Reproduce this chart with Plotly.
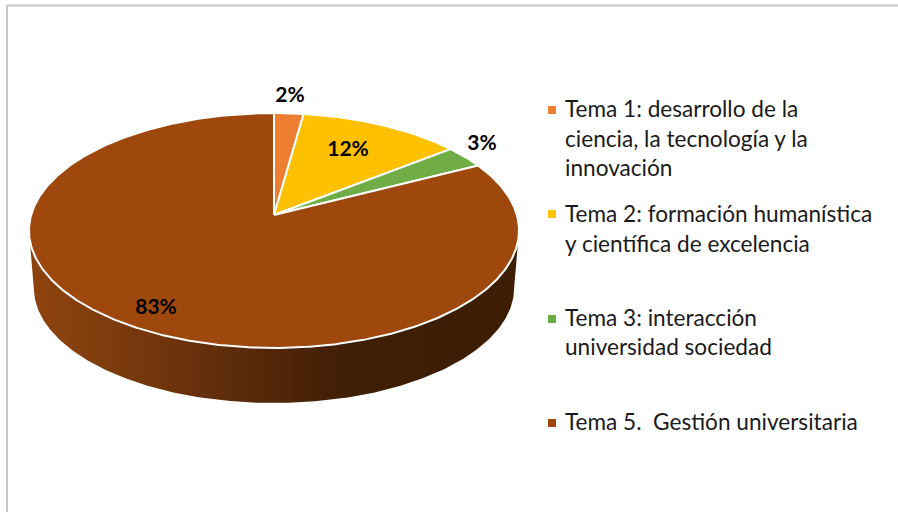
import numpy as np
import plotly.graph_objects as go

categories = ["Tema 1", "Tema 2", "Tema 3", "Tema 5"]
values = [2.2, 12.2, 3.1, 82.5]
value_labels = ["2%", "12%", "3%", "83%"]
colors = ["#ED7D31", "#FFC000", "#70AD47", "#9E480E"]
legend_lines = [
    ["Tema 1: desarrollo de la", "ciencia, la tecnología y la", "innovación"],
    ["Tema 2: formación humanística", "y científica de excelencia"],
    ["Tema 3: interacción", "universidad sociedad"],
    ["Tema 5.  Gestión universitaria"],
]
legend_line_y = [[111, 141, 170], [216, 246], [320, 349], [424]]
legend_marker_y = [110, 214, 319, 423]
label_pos = [(290, 97), (348, 151), (482, 145), (156, 309)]

W, H = 898, 512
CX, APEX_Y = 274, 215
K = 0.132
A = 115.4
B = 242.9
DEPTH_SCALE = 0.98
DEPTH_APEX_Y = 272.7


def project(theta_deg, apex_y=APEX_Y, scale=1.0):
    t = np.radians(theta_deg)
    x, y = np.sin(t), np.cos(t)
    d = 1 + K * y
    return CX + scale * B * x / d, apex_y - scale * A * y / d


fig = go.Figure()

# side wall of the drum
th_right = np.degrees(np.arccos(-K))
th = np.linspace(th_right, 360 - th_right, 300)
x1, y1 = project(th)
x2, y2 = project(th[::-1], DEPTH_APEX_Y, DEPTH_SCALE)
fig.add_trace(go.Scatter(
    x=np.r_[x1, x2], y=np.r_[y1, y2], mode="lines", fill="toself",
    line=dict(width=0),
    fillgradient=dict(type="horizontal", colorscale=[
        [0.0, "#8E430F"], [0.15, "#7F3D0D"], [0.3, "#6C330C"], [0.45, "#58290A"],
        [0.55, "#4C2308"], [0.66, "#3E1E05"], [1.0, "#3D1D04"]]),
    hoverinfo="skip", showlegend=False))

# top face slices
cum = np.cumsum([0] + values) / sum(values) * 360
for i, name in enumerate(categories):
    t = np.linspace(cum[i], cum[i + 1], max(3, int(cum[i + 1] - cum[i]) * 2))
    px, py = project(t)
    fig.add_trace(go.Scatter(
        x=np.r_[CX, px, CX], y=np.r_[APEX_Y, py, APEX_Y], mode="lines", fill="toself",
        fillcolor=colors[i], line=dict(color="white", width=2),
        name=name, hoverinfo="name", showlegend=False))

# value labels
fig.add_trace(go.Scatter(
    x=[p[0] for p in label_pos], y=[p[1] for p in label_pos], mode="text",
    text=value_labels, textposition="middle center",
    textfont=dict(family="Lato", size=21, color="#000000", weight="bold"),
    hoverinfo="skip", showlegend=False))

# legend
fig.add_trace(go.Scatter(
    x=[552] * 4, y=legend_marker_y, mode="markers",
    marker=dict(symbol="square", size=8, color=colors, line=dict(width=0)),
    hoverinfo="skip", showlegend=False))
fig.add_trace(go.Scatter(
    x=[565] * sum(len(l) for l in legend_lines),
    y=[y for ys in legend_line_y for y in ys], mode="text",
    text=[s for l in legend_lines for s in l], textposition="middle right",
    textfont=dict(family="Lato", size=22.6, color="#1a1a1a"),
    hoverinfo="skip", showlegend=False))

fig.update_layout(
    width=W, height=H, margin=dict(l=0, r=0, t=0, b=0),
    paper_bgcolor="white", plot_bgcolor="white",
    xaxis=dict(range=[0, W], visible=False, fixedrange=True),
    yaxis=dict(range=[H, 0], visible=False, fixedrange=True),
    shapes=[
        dict(type="line", xref="paper", yref="paper", x0=7 / W, x1=7 / W, y0=0, y1=1 - 5 / H,
             line=dict(color="#C4C4C4", width=2)),
        dict(type="line", xref="paper", yref="paper", x0=7 / W, x1=1, y0=1 - 5.5 / H, y1=1 - 5.5 / H,
             line=dict(color="#C4C4C4", width=2)),
    ],
)
fig.write_html("out.html", config={"displayModeBar": False},
               post_script="document.body.style.margin='0';document.body.style.overflow='hidden';")
